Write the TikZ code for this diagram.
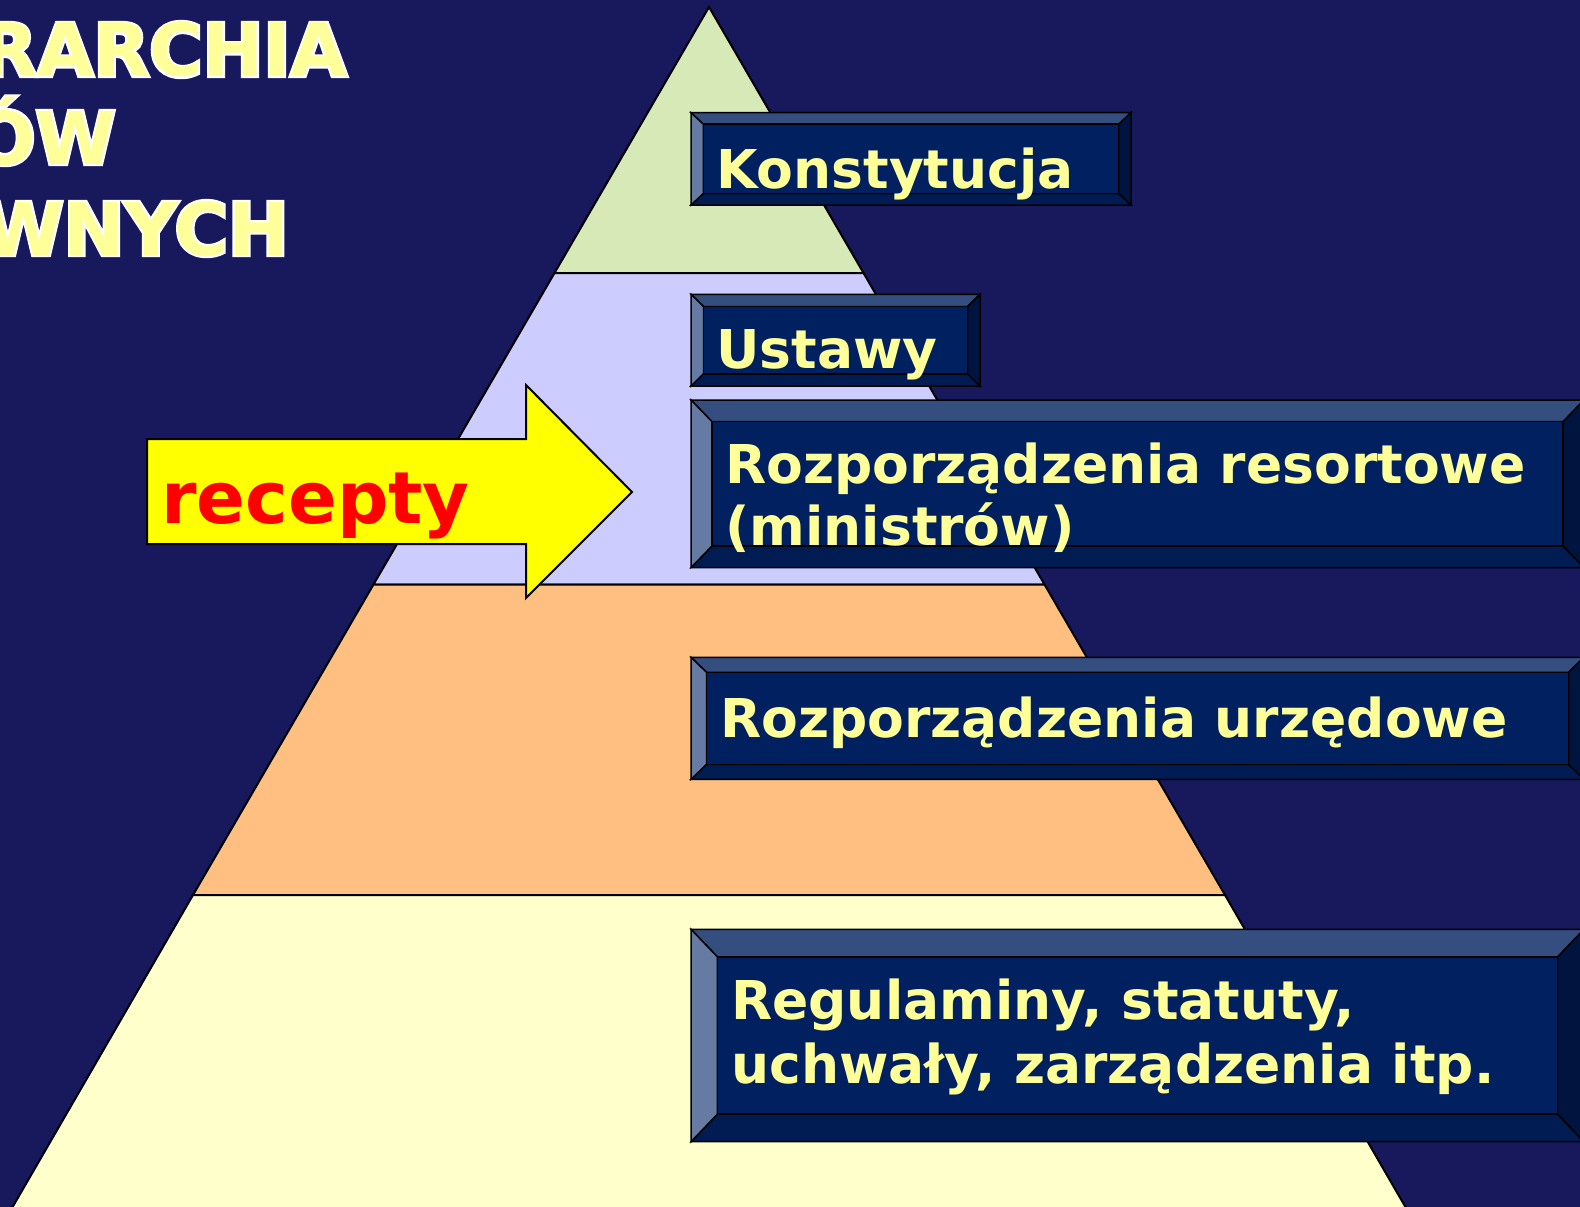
\documentclass[tikz,border=0pt]{standalone}
\usepackage{fontspec}
\setmainfont{DejaVu Sans}
\newfontfamily\outfont{DejaVu Sans Bold}[FakeBold=6]
\definecolor{bgnavy}{HTML}{18185C}
\definecolor{lgreen}{HTML}{D7E9B6}
\definecolor{lviolet}{HTML}{CCCCFF}
\definecolor{lorange}{HTML}{FFBF80}
\definecolor{lcream}{HTML}{FFFFCC}
\definecolor{lblyellow}{HTML}{FFFF99}
\definecolor{arrowyellow}{RGB}{255,255,0}
\definecolor{receptred}{RGB}{255,0,0}
\definecolor{bvface}{HTML}{002060}
\definecolor{bvtop}{HTML}{354E80}
\definecolor{bvleft}{HTML}{667BA3}
\definecolor{bvbottom}{HTML}{001C52}
\definecolor{bvright}{HTML}{001440}
\begin{document}
\begin{tikzpicture}[x=1pt,y=-1pt,line join=miter,
    layer/.style={draw=black,line width=2pt},
    bevel/.style={draw=black,line width=1.5pt},
    boxtext/.style={text=lblyellow,font=\bfseries\fontsize{53.5}{62}\selectfont,inner sep=0pt,anchor=base west,align=left},
    titleglow/.style={text=white,font=\outfont\fontsize{72.7}{80}\selectfont,inner sep=0pt,anchor=base east},
    titletext/.style={text=lblyellow,font=\bfseries\fontsize{72.7}{80}\selectfont,inner sep=0pt,anchor=base east}]
\useasboundingbox (0,0) rectangle (1580,1207);
\clip (0,0) rectangle (1580,1207);
\fill[bgnavy] (0,0) rectangle (1580,1207);
% pyramid
\filldraw[layer,fill=lgreen] (709,7) -- (863.5,273) -- (554.5,273) -- cycle;
\filldraw[layer,fill=lviolet] (554.5,273) -- (863.5,273) -- (1044.5,584.5) -- (373.5,584.5) -- cycle;
\filldraw[layer,fill=lorange] (373.5,584.5) -- (1044.5,584.5) -- (1225,895) -- (193,895) -- cycle;
\filldraw[layer,fill=lcream] (193,895) -- (1225,895) -- (1406,1208) -- (12,1208) -- cycle;
% title
\node[titleglow] (glow1) at (347,76) {RARCHIA};
\node[titletext] (tyt1) at (347,76) {RARCHIA};
\node[titleglow] (glow2) at (116,164) {ÓW};
\node[titletext] (tyt2) at (116,164) {ÓW};
\node[titleglow] (glow3) at (289,255) {WNYCH};
\node[titletext] (tyt3) at (289,255) {WNYCH};
% boxes
\foreach \xa/\ya/\xb/\yb/\bx/\by in {691/112.7/1131/205/12.3/11.5,691/294.3/980/386/12.5/12.2,691/400/1584/567.6/21/21.7,691/657.3/1584/779.3/15.5/15,691/929.3/1584/1141.7/26.3/27.5}
{
  \filldraw[bevel,fill=bvtop] (\xa,\ya) -- (\xb,\ya) -- (\xb-\bx,\ya+\by) -- (\xa+\bx,\ya+\by) -- cycle;
  \filldraw[bevel,fill=bvbottom] (\xa,\yb) -- (\xb,\yb) -- (\xb-\bx,\yb-\by) -- (\xa+\bx,\yb-\by) -- cycle;
  \filldraw[bevel,fill=bvleft] (\xa,\ya) -- (\xa+\bx,\ya+\by) -- (\xa+\bx,\yb-\by) -- (\xa,\yb) -- cycle;
  \filldraw[bevel,fill=bvright] (\xb,\ya) -- (\xb-\bx,\ya+\by) -- (\xb-\bx,\yb-\by) -- (\xb,\yb) -- cycle;
  \filldraw[bevel,fill=bvface] (\xa+\bx,\ya+\by) rectangle (\xb-\bx,\yb-\by);
}
\node[boxtext] (konst) at (716,188) {Konstytucja};
\node[boxtext] (ustawy) at (716,368) {Ustawy};
\node[boxtext] (resort) at (725,545) {Rozporządzenia resortowe\\(ministrów)};
\node[boxtext] (urzed) at (720,737) {Rozporządzenia urzędowe};
\node[boxtext] (regul) at (731,1083) {Regulaminy, statuty,\\[2pt]uchwały, zarządzenia itp.};
% arrow
\filldraw[draw=black,line width=2pt,fill=arrowyellow] (147,439) -- (526,439) -- (526,385) -- (632,492) -- (526,598) -- (526,544) -- (147,544) -- cycle;
\node[text=receptred,font=\bfseries\fontsize{72}{80}\selectfont,inner sep=0pt,anchor=base west] (recepty) at (161,523) {recepty};
\end{tikzpicture}
\end{document}
